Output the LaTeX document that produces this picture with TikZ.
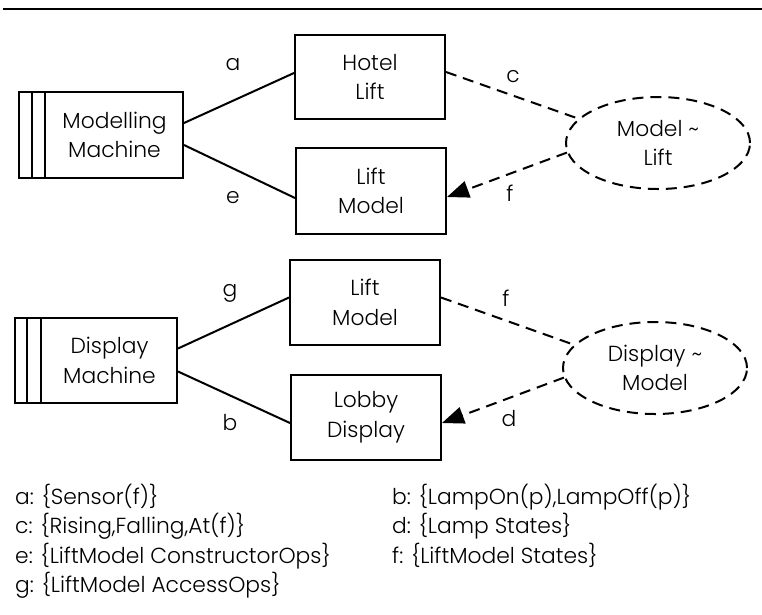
\documentclass[tikz,border=0pt]{standalone}
\usepackage{fontspec}
\setmainfont{Poppins}[UprightFont=* Light]
\usetikzlibrary{shapes.geometric,arrows.meta,calc}
\begin{document}
\begin{tikzpicture}[x=1pt,y=-1pt,
  every node/.style={font=\fontsize{21.8}{29.5}\selectfont, inner sep=0pt},
  box/.style={draw, line width=2pt, minimum width=150pt, minimum height=85pt, align=center},
  mach/.style={draw, line width=2pt, minimum width=164pt, minimum height=86pt},
  dom/.style={draw, ellipse, line width=2pt, minimum width=184pt, minimum height=92pt, align=center, dash pattern=on 11pt off 7pt},
  conn/.style={line width=2pt},
  dconn/.style={line width=2pt, dash pattern=on 11pt off 7pt},
  stripe/.style={line width=2pt},
  leg/.style={anchor=base west},
  tip/.style={-{Triangle[length=22pt,width=17pt]}}
]
\useasboundingbox (0,0) rectangle (762,614);
% top rule
\coordinate (r1) at (3,9);
\coordinate (r2) at (762,9);
\draw[line width=2pt] (r1) -- (r2);

% machines
\node[mach] (mm) at (101,135) {};
\draw[stripe] ($(mm.north west)+(14,0)$) -- ($(mm.south west)+(14,0)$);
\draw[stripe] ($(mm.north west)+(27,0)$) -- ($(mm.south west)+(27,0)$);
\node[align=center] (mmt) at (114.5,135) {Modelling\\Machine};

\node[mach, minimum width=162pt, minimum height=85pt] (dm) at (96,360.5) {};
\draw[stripe] ($(dm.north west)+(13,0)$) -- ($(dm.south west)+(13,0)$);
\draw[stripe] ($(dm.north west)+(27,0)$) -- ($(dm.south west)+(27,0)$);
\node[align=center] (dmt) at (109.5,360.5) {Display\\Machine};

% domains
\node[box, minimum height=84pt] (hl) at (370,77) {Hotel\\Lift};
\node[box, minimum height=86pt] (lm1) at (371,191) {Lift\\Model};
\node[box] (lm2) at (365,302.5) {Lift\\Model};
\node[box] (ld) at (366,417) {Lobby\\Display};

% designed domains
\node[dom] (e1) at (658,143) {Model \textasciitilde\\Lift};
\node[dom] (e2) at (655,368) {Display \textasciitilde\\Model};

% connectors
\draw[conn] ($(mm.east)+(0,-12)$) -- ($(hl.west)+(0,-4)$);
\draw[conn] ($(mm.east)+(0,10)$) -- ($(lm1.west)+(0,7)$);
\draw[conn] ($(dm.east)+(0,-12)$) -- ($(lm2.west)+(0,-5)$);
\draw[conn] ($(dm.east)+(0,11)$) -- ($(ld.west)+(0,6)$);
\draw[dconn] ($(hl.east)+(0,-5)$) -- (e1.163);
\draw[dconn, tip] (e1.186) -- ($(lm1.east)+(0,6)$);
\draw[dconn] ($(lm2.east)+(0,-5)$) -- (e2.164);
\draw[dconn, tip] (e2.186) -- ($(ld.east)+(0,6)$);

% labels
\node (la) at (233,65) {a};
\node (le) at (233,198) {e};
\node (lc) at (513,77) {c};
\node (lf1) at (510,193) {f};
\node (lg) at (230,293) {g};
\node (lb) at (230,423) {b};
\node (lf2) at (506,298) {f};
\node (ld2) at (509,419) {d};

% legend
\node[leg] (k1) at (15,504) {a: \{Sensor(f)\}};
\node[leg] (k2) at (15,533.5) {c: \{Rising,Falling,At(f)\}};
\node[leg] (k3) at (15,563) {e: \{LiftModel ConstructorOps\}};
\node[leg] (k4) at (15,592.5) {g: \{LiftModel AccessOps\}};
\node[leg] (k5) at (392,504) {b: \{LampOn(p),LampOff(p)\}};
\node[leg] (k6) at (392,533.5) {d: \{Lamp States\}};
\node[leg] (k7) at (392,563) {f: \{LiftModel States\}};
\end{tikzpicture}
\end{document}
